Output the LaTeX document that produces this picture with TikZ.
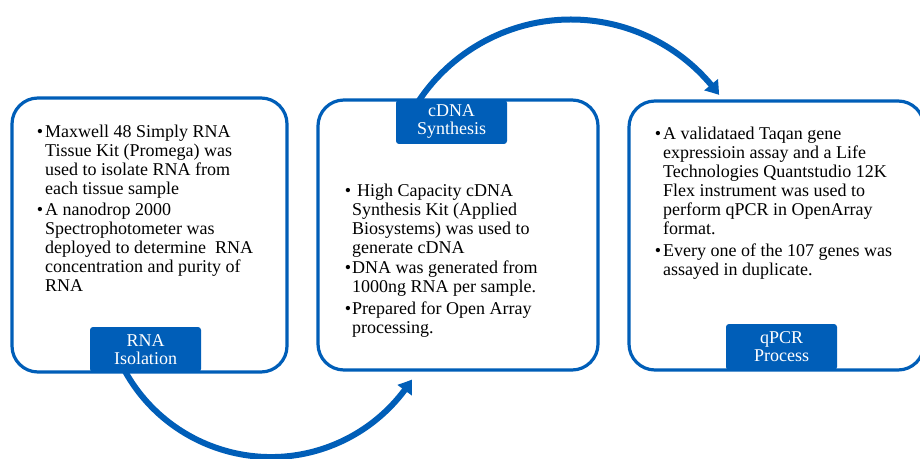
\documentclass[tikz,border=0pt]{standalone}
\usepackage{fontspec}
\setmainfont{Liberation Serif}
\usetikzlibrary{arrows.meta,bending}
\definecolor{pblue}{RGB}{0,94,184}
\newcommand{\bul}[1]{\leavevmode\llap{\textbullet\hspace{#1}}}
\begin{document}
\begin{tikzpicture}[x=1pt,y=1pt,
  panel/.style={draw=pblue, line width=3.2pt, fill=white, rounded corners=26pt, inner sep=0pt},
  tagbox/.style={fill=pblue, rounded corners=3pt, inner sep=0pt, minimum width=111pt,
    text=white, align=center, font=\fontsize{18}{18}\selectfont},
  flow/.style={draw=pblue, line width=6pt, -{Triangle[length=13pt,width=17pt,bend]}},
  body/.style={anchor=base west, inner sep=0pt, font=\fontsize{18}{19}\selectfont}]
\clip (0,0) rectangle (920,458);
\fill[white] (0,0) rectangle (920,458);
% arcs (drawn first, covered by panels at their start)
\coordinate (s1) at (119.6,97.4);
\coordinate (s2) at (412.5,347);
\draw[flow] (s1) arc[start angle=205, end angle=327.6, radius=167];
\draw[flow] (s2) arc[start angle=150, end angle=36, radius=183];
% panels
\node[panel, minimum width=275pt, minimum height=274pt] (p1) at (149.5,223) {};
\node[panel, minimum width=280pt, minimum height=270pt] (p2) at (458,223) {};
\node[panel, minimum width=295pt, minimum height=269pt] (p3) at (776.5,222.5) {};
% tags
\node[tagbox, minimum height=45pt] (t1) at (145.5,108.5) {RNA\\Isolation};
\node[tagbox, minimum height=44pt] (t2) at (451.5,336) {cDNA\\Synthesis};
\node[tagbox, minimum height=46pt] (t3) at (781.5,111) {qPCR\\Process};
% body texts
\node[body] (b1) at (45,320) {\parbox[t]{240pt}{\raggedright
\bul{2pt}Maxwell 48 Simply RNA\\
Tissue Kit (Promega) was\\
used to isolate RNA from\\
each tissue sample\\[2pt]
\bul{2pt}A nanodrop 2000\\
Spectrophotometer was\\
deployed to determine\ \ RNA\\
concentration and purity of\\
RNA}};
\node[body] (b2) at (352,261) {\parbox[t]{240pt}{\raggedright
\bul{1pt}\hspace{5pt}High Capacity cDNA\\
Synthesis Kit (Applied\\
Biosystems) was used to\\
generate cDNA\\[1pt]
\bul{1pt}DNA was generated from\\
1000ng RNA per sample.\\[3pt]
\bul{1pt}Prepared for Open Array\\
processing.}};
\node[body] (b3) at (663,318) {\parbox[t]{250pt}{\raggedright
\bul{2pt}A validataed Taqan gene\\
expressioin assay and a Life\\
Technologies Quantstudio 12K\\
Flex instrument was used to\\
perform qPCR in OpenArray\\
format.\\[3pt]
\bul{2pt}Every one of the 107 genes was\\
assayed in duplicate.}};
\end{tikzpicture}
\end{document}
